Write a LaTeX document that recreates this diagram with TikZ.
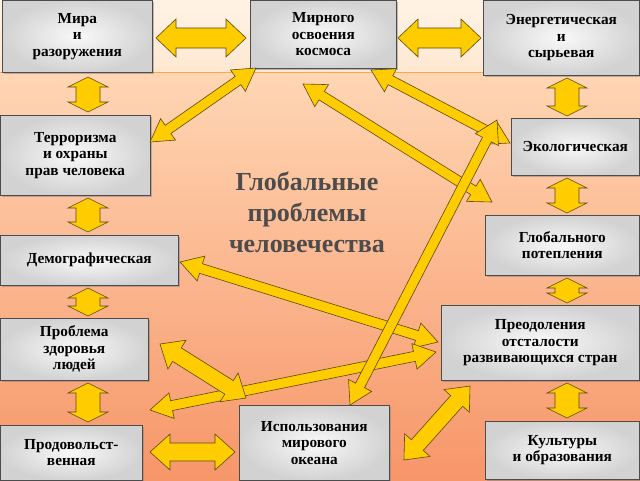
\documentclass[tikz,border=0pt]{standalone}
\usepackage{fontspec}
\setmainfont{Liberation Serif}
\usetikzlibrary{calc,shadows}
\definecolor{arrf}{HTML}{FFCC00}
\definecolor{arrl}{HTML}{5A4A10}
\tikzset{
 box/.style={draw=black!70,line width=0.6pt,inner color=gray!5,outer color=gray!35,drop shadow={shadow xshift=2pt,shadow yshift=-2pt,opacity=0.5},font=\bfseries\fontsize{15.3}{16.5}\selectfont,align=center,anchor=north west,inner sep=0pt},
 arr/.style={fill=arrf,draw=arrl,line width=0.6pt,line join=miter}
}
\newcommand\darr[5]{% A B headlen headhalf shafthalf
 \coordinate (ha) at ($(#1)!#3!(#2)$);
 \coordinate (hb) at ($(#2)!#3!(#1)$);
 \draw[arr] (#1) -- ($(ha)!#4!90:(#2)$) -- ($(ha)!#5!90:(#2)$) -- ($(hb)!#5!-90:(#1)$) -- ($(hb)!#4!-90:(#1)$) -- (#2)
 -- ($(hb)!#4!90:(#1)$) -- ($(hb)!#5!90:(#1)$) -- ($(ha)!#5!-90:(#2)$) -- ($(ha)!#4!-90:(#2)$) -- cycle;}
\begin{document}
\begin{tikzpicture}[x=1pt,y=-1pt]
\useasboundingbox (0,0) rectangle (640,480);
\shade[top color=orange!10!white,bottom color=orange!18!white] (0,0) rectangle (640,72);
\shade[top color={rgb,255:red,255;green,214;blue,180},bottom color={rgb,255:red,247;green,150;blue,105}] (0,72) rectangle (640,480);
\draw[orange!70,line width=0.5pt] (0,72) -- (640,72);
\node[box,minimum width=150pt,minimum height=72pt] (mira) at (2,0) {Мира\\и\\разоружения};
\node[box,minimum width=146pt,minimum height=68pt] (kos) at (250,0) {Мирного\\освоения\\космоса};
\node[box,minimum width=156pt,minimum height=75pt] (en) at (483,0) {Энергетическая\\и\\сырьевая};
\node[box,minimum width=150pt,minimum height=80pt] (ter) at (0,115) {Терроризма\\и охраны\\прав человека};
\node[box,minimum width=128pt,minimum height=57pt] (eko) at (511,118) {Экологическая};
\node[box,minimum width=154pt,minimum height=60pt] (gp) at (485,215) {Глобального\\потепления};
\node[box,minimum width=178pt,minimum height=50pt] (dem) at (0,235) {Демографическая};
\node[box,minimum width=198pt,minimum height=75pt] (pre) at (441,305) {Преодоления\\отсталости\\развивающихся стран};
\node[box,minimum width=148pt,minimum height=62pt] (zd) at (0,318) {Проблема\\здоровья\\людей};
\node[box,minimum width=150pt,minimum height=75pt] (ok) at (239,405) {Использования\\мирового\\океана};
\node[box,minimum width=142pt,minimum height=55pt] (pr) at (0,425) {Продовольст-\\венная};
\node[box,minimum width=154pt,minimum height=58pt] (ku) at (485,421) {Культуры\\и образования};
\node[font=\bfseries\fontsize{26}{31}\selectfont,text=black!70,align=center] (title) at (307,212) {Глобальные\\проблемы\\человечества};
% horizontal thick
\coordinate (a1) at (156,38); \coordinate (a2) at (246,38); \darr{a1}{a2}{20pt}{19pt}{10pt}
\coordinate (b1) at (398,38); \coordinate (b2) at (481,38); \darr{b1}{b2}{20pt}{19pt}{10pt}
\coordinate (c1) at (150,452); \coordinate (c2) at (235,452); \darr{c1}{c2}{20pt}{18pt}{9pt}
% vertical
\foreach \x/\ya/\yb in {88/77/112, 567/78/116, 88/198/232, 567/178/213, 88/288/316, 567/278/303, 88/383/422, 567/383/418}{
 \coordinate (v1) at (\x,\ya); \coordinate (v2) at (\x,\yb); \darr{v1}{v2}{10pt}{20pt}{12pt}}
% diagonal thin
\coordinate (d1) at (256,68); \coordinate (d2) at (150,142); \darr{d1}{d2}{22pt}{13pt}{5pt}
\coordinate (e1) at (303,84); \coordinate (e2) at (492,202); \darr{e1}{e2}{22pt}{13pt}{5pt}
\coordinate (f1) at (371,70); \coordinate (f2) at (510,143); \darr{f1}{f2}{22pt}{13pt}{5pt}
\coordinate (g1) at (180,262); \coordinate (g2) at (438,342); \darr{g1}{g2}{22pt}{13pt}{5pt}
\coordinate (h1) at (150,410); \coordinate (h2) at (436,352); \darr{h1}{h2}{22pt}{13pt}{5pt}
\coordinate (i1) at (497,120); \coordinate (i2) at (350,405); \darr{i1}{i2}{22pt}{13pt}{5pt}
% diagonal thick
\coordinate (j1) at (160,344); \coordinate (j2) at (246,398); \darr{j1}{j2}{20pt}{17pt}{8pt}
\coordinate (k1) at (404,460); \coordinate (k2) at (470,386); \darr{k1}{k2}{20pt}{17pt}{8pt}
\end{tikzpicture}
\end{document}
